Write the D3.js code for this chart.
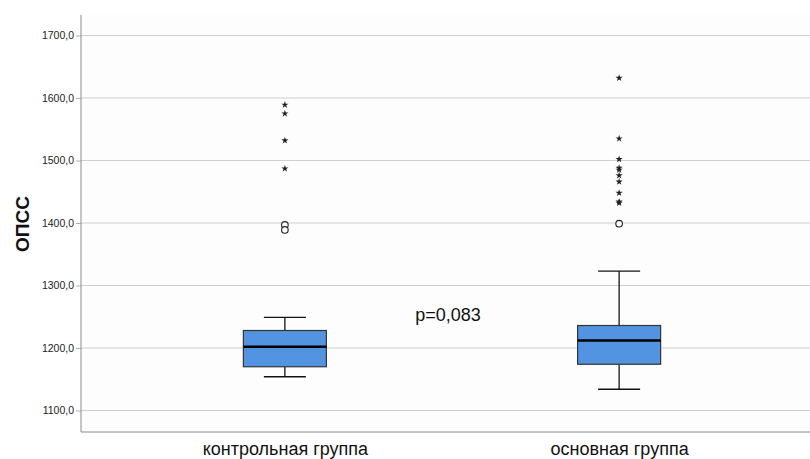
<!DOCTYPE html>
<html>
<head>
<meta charset="utf-8">
<script src="https://cdn.jsdelivr.net/npm/d3@7"></script>
<style>
  html, body { margin: 0; padding: 0; background: #ffffff; }
  svg { display: block; font-family: "Liberation Sans", Arial, sans-serif; }
</style>
</head>
<body>
<svg id="chart" width="810" height="459"></svg>
<script>
// Groups and their box-plot summaries (ОПСС)
const groups = ["контрольная группа", "основная группа"];
const lowerWhisker = [1154, 1134];
const q1 = [1170, 1174];
const median = [1202, 1212];
const q3 = [1228, 1236];
const upperWhisker = [1249, 1323];
// Mild outliers (circles) and extreme outliers (stars)
const mildOutliers = [[1397, 1389], [1399]];
const extremeOutliers = [
  [1589, 1575, 1532, 1487],
  [1632, 1535, 1502, 1488, 1485, 1476, 1466, 1448, 1434, 1432]
];
const yTicks = [1100, 1200, 1300, 1400, 1500, 1600, 1700];
const yTitle = "ОПСС";
const annotation = "p=0,083";

const svg = d3.select("#chart");
const plotLeft = 81, plotTop = 15, plotBottom = 432, plotRight = 810;

const y = d3.scaleLinear().domain([1065.6, 1732.8]).range([plotBottom, plotTop]);
const x = d3.scalePoint().domain(groups).range([plotLeft, 823]).padding(0.61);

const boxW = 83, capW = 42;

// plot background
svg.append("rect").attr("x", plotLeft).attr("y", plotTop)
  .attr("width", plotRight - plotLeft).attr("height", plotBottom - plotTop)
  .attr("fill", "#fdfdfd");

// horizontal gridlines
svg.append("g").selectAll("line").data(yTicks).join("line")
  .attr("x1", plotLeft).attr("x2", plotRight)
  .attr("y1", d => y(d)).attr("y2", d => y(d))
  .attr("stroke", "#cfcfcf").attr("stroke-width", 1.2);

// y axis
const yAxis = d3.axisLeft(y).tickValues(yTicks).tickSize(5).tickPadding(2)
  .tickFormat(d => d3.format(".1f")(d).replace(".", ","));
const gy = svg.append("g").attr("transform", `translate(${plotLeft},0)`).call(yAxis);
gy.select(".domain").remove();
gy.selectAll(".tick line").attr("stroke", "#b0b0b0");
gy.selectAll(".tick text").attr("fill", "#222").style("font-size", "10.5px")
  .style("font-family", "'Liberation Sans', Arial, sans-serif");

// axis frame lines
svg.append("line").attr("x1", plotLeft).attr("x2", plotLeft).attr("y1", plotTop).attr("y2", plotBottom)
  .attr("stroke", "#8a8a8a").attr("stroke-width", 1);
svg.append("line").attr("x1", plotLeft).attr("x2", plotRight).attr("y1", plotBottom).attr("y2", plotBottom)
  .attr("stroke", "#8a8a8a").attr("stroke-width", 1);

// x category labels
const xAxis = d3.axisBottom(x).tickSize(0).tickPadding(10);
const gx = svg.append("g").attr("transform", `translate(0,${plotBottom})`).call(xAxis);
gx.select(".domain").remove();
gx.selectAll(".tick text").attr("fill", "#111").style("font-size", "18px")
  .style("font-family", "'Liberation Sans', Arial, sans-serif");

// boxes
const g = svg.append("g");
groups.forEach((grp, i) => {
  const cx = x(grp);
  // whisker stems
  g.append("line").attr("x1", cx).attr("x2", cx)
    .attr("y1", y(upperWhisker[i])).attr("y2", y(q3[i]))
    .attr("stroke", "#000").attr("stroke-width", 1.2);
  g.append("line").attr("x1", cx).attr("x2", cx)
    .attr("y1", y(q1[i])).attr("y2", y(lowerWhisker[i]))
    .attr("stroke", "#000").attr("stroke-width", 1.2);
  // caps
  [upperWhisker[i], lowerWhisker[i]].forEach(v => {
    g.append("line").attr("x1", cx - capW / 2).attr("x2", cx + capW / 2)
      .attr("y1", y(v)).attr("y2", y(v))
      .attr("stroke", "#111").attr("stroke-width", 1.3);
  });
  // box
  g.append("rect").attr("x", cx - boxW / 2).attr("y", y(q3[i]))
    .attr("width", boxW).attr("height", y(q1[i]) - y(q3[i]))
    .attr("fill", "#5294e2").attr("stroke", "#333").attr("stroke-width", 1.2);
  // median
  g.append("line").attr("x1", cx - boxW / 2).attr("x2", cx + boxW / 2)
    .attr("y1", y(median[i])).attr("y2", y(median[i]))
    .attr("stroke", "#000").attr("stroke-width", 2.6);
  // mild outliers
  g.selectAll(null).data(mildOutliers[i]).join("circle")
    .attr("cx", cx).attr("cy", d => y(d)).attr("r", 3.3)
    .attr("fill", "#fff").attr("stroke", "#222").attr("stroke-width", 1.1);
  // extreme outliers
  g.selectAll(null).data(extremeOutliers[i]).join("path")
    .attr("transform", d => `translate(${cx},${y(d)})`)
    .attr("d", d3.symbol(d3.symbolStar, 16))
    .attr("fill", "#222");
});

// annotation
svg.append("text").attr("x", x(groups[0]) + (x(groups[1]) - x(groups[0])) / 2 - 4)
  .attr("y", y(1243)).attr("text-anchor", "middle")
  .style("font-size", "18px").attr("fill", "#111").text(annotation);

// y title
svg.append("text")
  .attr("transform", `translate(29,224) rotate(-90)`)
  .attr("text-anchor", "middle")
  .style("font-size", "19px").style("font-weight", "bold").attr("fill", "#111")
  .text(yTitle);
</script>
</body>
</html>
